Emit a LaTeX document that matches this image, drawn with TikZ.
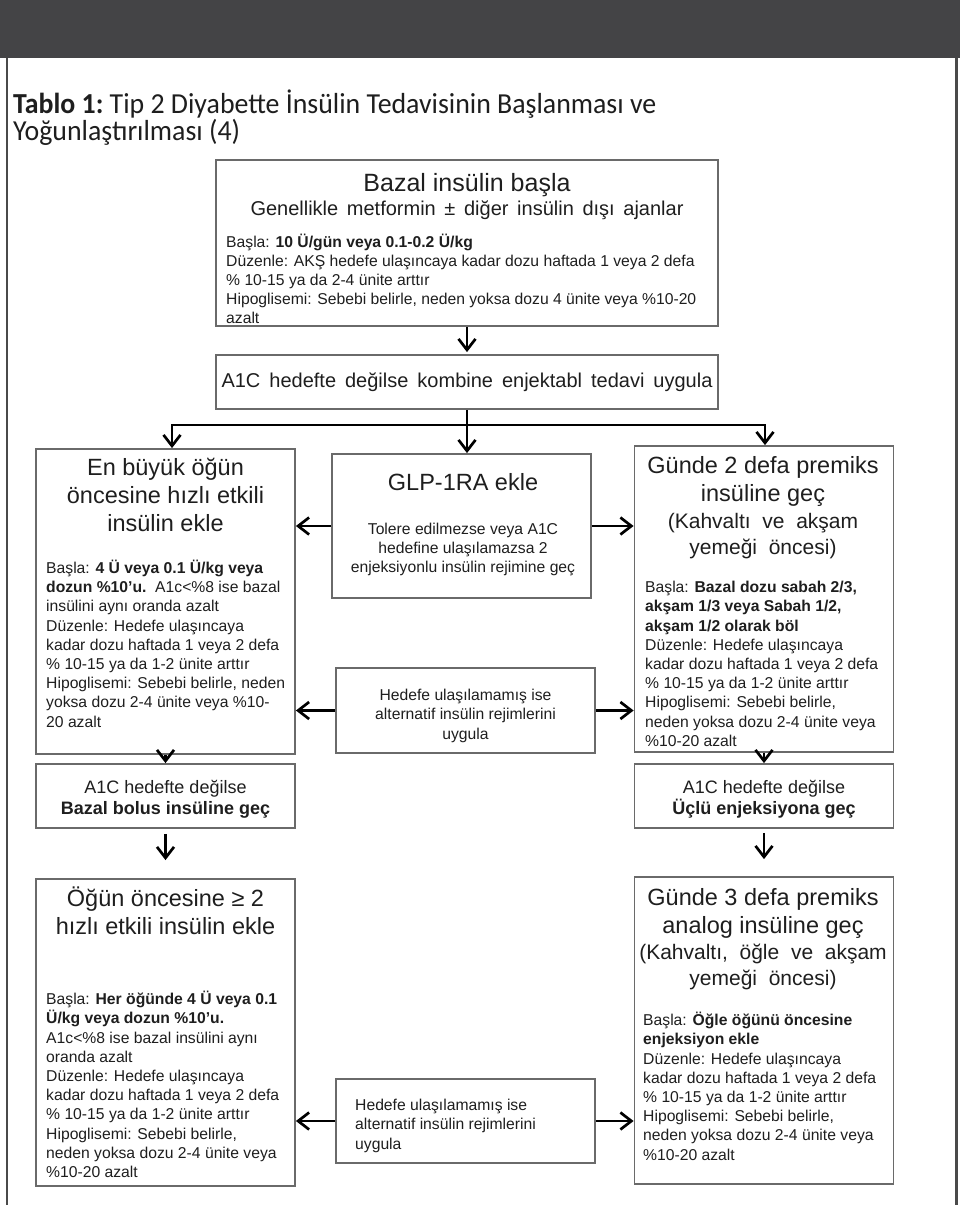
\documentclass[tikz,border=0pt]{standalone}
\usepackage{fontspec}
\setmainfont{Liberation Sans}
\newfontfamily\headfont{Carlito}[FakeStretch=0.96]
\usetikzlibrary{arrows.meta}

\definecolor{bandgray}{HTML}{444446}
\definecolor{framegray}{HTML}{4A4A4A}
\definecolor{boxgray}{HTML}{6A6A6A}
\definecolor{ink}{HTML}{1E1E1E}

% one line of a stacked text block: centred on the anchor, or flush left
\newcommand\ctr[1]{\hbox to 0pt{\hss#1\hss}}
\newcommand\lft[1]{\hbox{#1}}

\tikzset{
  box/.style n args={2}{draw=boxgray, line width=1.8pt, inner sep=0pt,
    minimum width=#1, minimum height=#2},
  txt/.style={inner sep=0pt, text=ink},
  head/.style={txt, font=\fontsize{23.5}{28}\selectfont},
  sub/.style={txt, font=\fontsize{21}{26}\selectfont},
  mid/.style={txt, font=\fontsize{18}{21}\selectfont},
  body/.style={txt, font=\fontsize{15.7}{19.2}\selectfont},
  link/.style={draw=black, line width=2.6pt},
  arr/.style={link, line join=miter,
    -{Straight Barb[length=11pt,width=17pt,line width=2.7pt]}},
}

\begin{document}
\begin{tikzpicture}[x=1pt, y=-1pt]
\useasboundingbox (0,0) rectangle (960,1205);

% header band and page frame
\fill[bandgray] (0,0) rectangle (960,58);
\draw[framegray, line width=2.5pt] (7,58) -- (7,1205);
\draw[framegray, line width=2.5pt] (956.5,58) -- (956.5,1205);

% table caption
\node[txt, anchor=base west] (caption) at (13,113)
  {\vtop{\headfont\fontsize{29}{26}\selectfont
    \lft{\bfseries Tablo 1:\mdseries\ Tip 2 Diyabette İnsülin Tedavisinin Başlanması ve}
    \lft{Yoğunlaştırılması (4)}}};

% ---------- boxes ----------
\node[box={502pt}{166pt}] (bazal) at (467,243) {};
\node[box={502pt}{54pt}]  (a1c)   at (467,382) {};
\node[box={259pt}{305pt}] (enb)   at (165.5,601.5) {};
\node[box={259pt}{144pt}] (glp)   at (461.5,526) {};
\node[box={259pt}{306pt}] (gun2)  at (764,599) {};
\node[box={259pt}{85pt}]  (alt1)  at (465.5,710.5) {};
\node[box={259pt}{64pt}]  (a1cL)  at (165.5,796) {};
\node[box={259pt}{64pt}]  (ucl)   at (764,796) {};
\node[box={259pt}{307pt}] (ogun)  at (165.5,1032.5) {};
\node[box={259pt}{84pt}]  (alt2)  at (465.5,1121) {};
\node[box={259pt}{307pt}] (gun3)  at (764,1030.5) {};

% ---------- box texts ----------
\node[txt, anchor=base, font=\fontsize{25}{30}\selectfont] (bazalT) at (467,191.5)
  {Bazal insülin başla};
\node[txt, anchor=base, font=\fontsize{20}{24}\selectfont] (bazalS) at (467,215)
  {\makebox[433pt][s]{Genellikle metformin ± diğer insülin dışı ajanlar}};
\node[body, anchor=base west] (bazalB) at (226,247) {\vtop{
  \lft{Başla: \textbf{10 Ü/gün veya 0.1-0.2 Ü/kg}}
  \lft{Düzenle: AKŞ hedefe ulaşıncaya kadar dozu haftada 1 veya 2 defa}
  \lft{\% 10-15 ya da 2-4 ünite arttır}
  \lft{Hipoglisemi: Sebebi belirle, neden yoksa dozu 4 ünite veya \%10-20}
  \lft{azalt}}};

\node[txt, anchor=base, font=\fontsize{20}{24}\selectfont] (a1cT) at (467,387)
  {\makebox[491pt][s]{A1C hedefte değilse kombine enjektabl tedavi uygula}};

\node[head, anchor=base] (enbT) at (165.5,475.5) {\vtop{
  \ctr{En büyük öğün}\ctr{öncesine hızlı etkili}\ctr{insülin ekle}}};
\node[body, anchor=base west] (enbB) at (46,573.5) {\vtop{
  \lft{Başla: \textbf{4 Ü veya 0.1 Ü/kg veya}}
  \lft{\textbf{dozun \%10’u.}\ \ A1c<\%8 ise bazal}
  \lft{insülini aynı oranda azalt}
  \lft{Düzenle: Hedefe ulaşıncaya}
  \lft{kadar dozu haftada 1 veya 2 defa}
  \lft{\% 10-15 ya da 1-2 ünite arttır}
  \lft{Hipoglisemi: Sebebi belirle, neden}
  \lft{yoksa dozu 2-4 ünite veya \%10-}
  \lft{20 azalt}}};

\node[head, anchor=base] (glpT) at (463,490.5) {GLP-1RA ekle};
\node[body, anchor=base] (glpB) at (463,534.5) {\vtop{
  \ctr{Tolere edilmezse veya A1C}
  \ctr{hedefine ulaşılamazsa 2}
  \ctr{enjeksiyonlu insülin rejimine geç}}};

\node[head, anchor=base] (gun2T) at (763,473.4) {\vtop{
  \ctr{Günde 2 defa premiks}\ctr{insüline geç}}};
\node[sub, anchor=base] (gun2S) at (763,528.5) {\vtop{
  \ctr{(Kahvaltı\ \ ve\ \ akşam}\ctr{yemeği\ \ öncesi)}}};
\node[body, anchor=base west] (gun2B) at (645,592.6) {\vtop{
  \lft{Başla: \textbf{Bazal dozu sabah 2/3,}}
  \lft{\textbf{akşam 1/3 veya Sabah 1/2,}}
  \lft{\textbf{akşam 1/2 olarak böl}}
  \lft{Düzenle: Hedefe ulaşıncaya}
  \lft{kadar dozu haftada 1 veya 2 defa}
  \lft{\% 10-15 ya da 1-2 ünite arttır}
  \lft{Hipoglisemi: Sebebi belirle,}
  \lft{neden yoksa dozu 2-4 ünite veya}
  \lft{\%10-20 azalt}}};

\node[body, anchor=base] (alt1T) at (465.5,700.6) {\vtop{
  \ctr{Hedefe ulaşılamamış ise}
  \ctr{alternatif insülin rejimlerini}
  \ctr{uygula}}};

\node[mid, anchor=base] (a1cLT) at (165.5,793.5) {\vtop{
  \ctr{A1C hedefte değilse}\ctr{\textbf{Bazal bolus insüline geç}}}};
\node[mid, anchor=base] (uclT) at (764,793.5) {\vtop{
  \ctr{A1C hedefte değilse}\ctr{\textbf{Üçlü enjeksiyona geç}}}};

\node[head, anchor=base] (ogunT) at (165.5,906.4) {\vtop{
  \ctr{Öğün öncesine ≥ 2}\ctr{hızlı etkili insülin ekle}}};
\node[body, anchor=base west] (ogunB) at (46,1004.6) {\vtop{
  \lft{Başla: \textbf{Her öğünde 4 Ü veya 0.1}}
  \lft{\textbf{Ü/kg veya dozun \%10’u.}}
  \lft{A1c<\%8 ise bazal insülini aynı}
  \lft{oranda azalt}
  \lft{Düzenle: Hedefe ulaşıncaya}
  \lft{kadar dozu haftada 1 veya 2 defa}
  \lft{\% 10-15 ya da 1-2 ünite arttır}
  \lft{Hipoglisemi: Sebebi belirle,}
  \lft{neden yoksa dozu 2-4 ünite veya}
  \lft{\%10-20 azalt}}};

\node[body, anchor=base west] (alt2T) at (355,1110.6) {\vtop{
  \lft{Hedefe ulaşılamamış ise}
  \lft{alternatif insülin rejimlerini}
  \lft{uygula}}};

\node[head, anchor=base] (gun3T) at (763,905.4) {\vtop{
  \ctr{Günde 3 defa premiks}\ctr{analog insüline geç}}};
\node[sub, anchor=base] (gun3S) at (763,959.5) {\vtop{
  \ctr{(Kahvaltı,\ \ öğle\ \ ve\ \ akşam}\ctr{yemeği\ \ öncesi)}}};
\node[body, anchor=base west] (gun3B) at (643,1025.6) {\vtop{
  \lft{Başla: \textbf{Öğle öğünü öncesine}}
  \lft{\textbf{enjeksiyon ekle}}
  \lft{Düzenle: Hedefe ulaşıncaya}
  \lft{kadar dozu haftada 1 veya 2 defa}
  \lft{\% 10-15 ya da 1-2 ünite arttır}
  \lft{Hipoglisemi: Sebebi belirle,}
  \lft{neden yoksa dozu 2-4 ünite veya}
  \lft{\%10-20 azalt}}};

% ---------- connectors ----------
\coordinate (br)  at (467,425);
\coordinate (brL) at (172,425);
\coordinate (brR) at (765,425);

\draw[arr, shorten >=2pt] (bazal.south) -- (a1c.north);
\draw[arr] (a1c.south) -- (a1c.south |- glp.north);
\draw[arr] (br) -| (brL |- enb.north);
\draw[arr] (br) -| (brR |- gun2.north);

\draw[arr] (glp.west) -- (glp.west -| enb.east);
\draw[arr] (glp.east) -- (glp.east -| gun2.west);
\draw[arr] (alt1.west) -- (alt1.west -| enb.east);
\draw[arr] (alt1.east) -- (alt1.east -| gun2.west);

\draw[arr] (enb.south) -- (a1cL.north);
\draw[arr] (gun2.south) -- (ucl.north);
\draw[arr, shorten <=5pt, shorten >=18pt] (a1cL.south) -- (ogun.north);
\draw[arr, shorten <=4pt, shorten >=17pt] (ucl.south) -- (gun3.north);

\draw[arr] (alt2.west) -- (alt2.west -| ogun.east);
\draw[arr] (alt2.east) -- (alt2.east -| gun3.west);
\end{tikzpicture}
\end{document}
